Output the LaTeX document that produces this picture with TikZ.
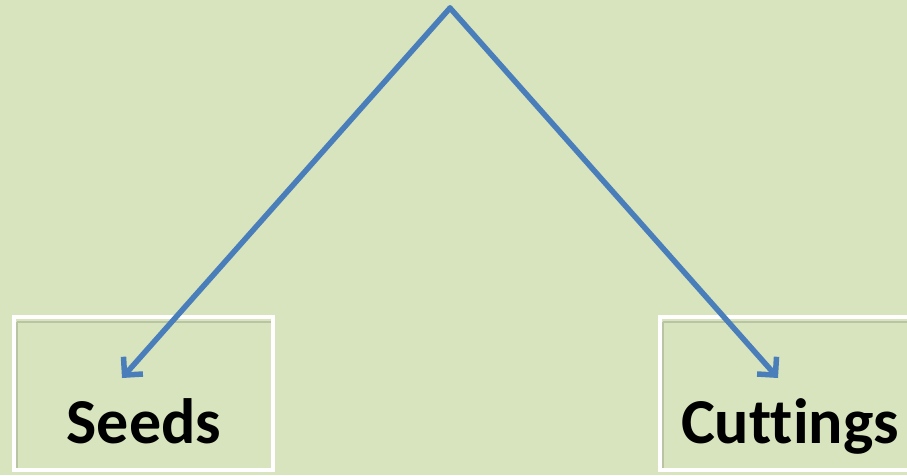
\documentclass[tikz,border=0pt]{standalone}
\usepackage{fontspec}
\setmainfont[Ligatures=NoCommon]{Carlito}
\usetikzlibrary{arrows.meta}
\definecolor{bg}{HTML}{D7E4BD}
\definecolor{arrowblue}{HTML}{4A7EBB}
\definecolor{shade}{HTML}{9AA68A}
\tikzset{
  conn/.style={draw=arrowblue, line width=5.5pt, line cap=round, line join=round,
    -{Straight Barb[length=13pt,width=26pt,line width=5.5pt]}},
  whitebox/.style={draw=white, line width=4pt},
  innershade/.style={draw=shade, line width=2.5pt, opacity=0.5},
  label/.style={font=\bfseries\fontsize{64}{64}\selectfont, text=black, inner sep=0pt, anchor=base}
}
\begin{document}
\begin{tikzpicture}[x=1pt,y=-1pt]
\fill[bg] (0,0) rectangle (907,475);
\useasboundingbox (0,0) rectangle (907,475);
% boxes
\draw[innershade] (17,322) -- (17,468) (17,322) -- (271,322);
\draw[whitebox] (14,317) rectangle (273,470);
\draw[innershade] (663,322) -- (663,468) (663,322) -- (907,322);
\draw[whitebox] (660,317) rectangle (912,470);
% labels
\node[label] (seeds) at (144,443) {Seeds};
\node[label] (cuttings) at (790,443) {Cuttings};
% connectors
\coordinate (apex) at (450,8);
\coordinate (tipL) at (122,378);
\coordinate (tipR) at (778,378);
\draw[conn] (apex) -- (tipL);
\draw[conn] (apex) -- (tipR);
\end{tikzpicture}
\end{document}
